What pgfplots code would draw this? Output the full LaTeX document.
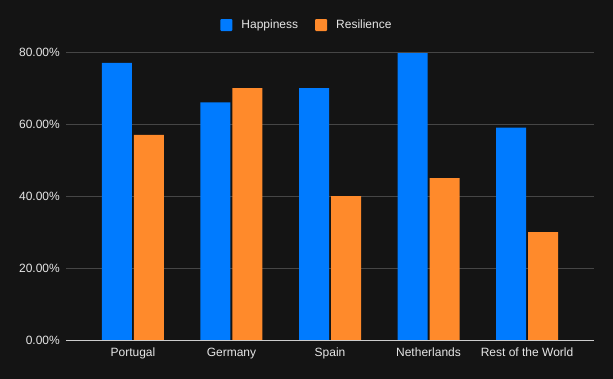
\documentclass[border=0pt]{standalone}
\usepackage{pgfplots}
\pgfplotsset{compat=1.18}
\usepackage{fontspec}
\setmainfont{Liberation Sans}
\usetikzlibrary{backgrounds,calc}
\definecolor{bg}{HTML}{141414}
\definecolor{gridc}{HTML}{464646}
\definecolor{axc}{HTML}{CCCCCC}
\definecolor{txt}{HTML}{E6E6E6}
\definecolor{hap}{HTML}{007BFF}
\definecolor{res}{HTML}{FF8A2B}
\begin{document}
\begin{tikzpicture}
\begin{axis}[
  scale only axis, width=528bp, height=288bp,
  ybar=2bp, bar width=30bp,
  xmin=-0.68, xmax=4.68, ymin=0, ymax=80,
  enlargelimits=false,
  xtick={0,1,2,3,4},
  xticklabels={Portugal,Germany,Spain,Netherlands,Rest of the World},
  ytick={20,40,60,80},
  extra y ticks={0},
  extra y tick style={grid style={axc, line width=1bp}},
  yticklabel={\pgfmathprintnumber[fixed,fixed zerofill,precision=2]{\tick}\%},
  /pgf/number format/assume math mode=true,
  ymajorgrids, grid style={gridc, line width=1bp},
  axis line style={draw=none},
  major tick length=0pt, tick style={draw=none},
  tick label style={text=txt, font=\fontsize{12bp}{14bp}\selectfont, inner sep=0pt},
  xticklabel style={anchor=base, yshift=-16bp},
  yticklabel style={anchor=east, xshift=-6bp},
  legend style={at={(0.5,1)}, anchor=center, xshift=-23bp, yshift=27bp, draw=none, fill=none,
    text=txt, font=\fontsize{12bp}{14bp}\selectfont, legend columns=2,
    /tikz/every odd column/.append style={column sep=7bp},
    /tikz/every even column/.append style={column sep=15bp}},
]
\coordinate (sw) at (rel axis cs:0,0);
\addplot[fill=hap, draw=none, legend image code/.code={\fill[hap, rounded corners=1bp] (0bp,-6bp) rectangle (12bp,6bp);}]
  coordinates {(0,77) (1,66) (2,70) (3,79.7) (4,59)};
\addplot[fill=res, draw=none, legend image code/.code={\fill[res, rounded corners=1bp] (0bp,-6bp) rectangle (12bp,6bp);}]
  coordinates {(0,57) (1,70) (2,40) (3,45) (4,30)};
\legend{Happiness,Resilience}
\end{axis}
\begin{scope}[on background layer]
\fill[bg] ($(sw)+(-66bp,-39bp)$) rectangle ++(613bp,379bp);
\end{scope}
\end{tikzpicture}
\end{document}
